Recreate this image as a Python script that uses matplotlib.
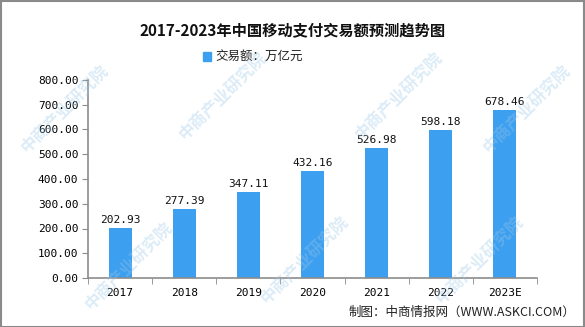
import matplotlib
matplotlib.use("Agg")
import matplotlib.pyplot as plt
from matplotlib.patches import Rectangle

plt.rcParams['font.family'] = ['Noto Sans CJK SC', 'DejaVu Sans']

years = ['2017', '2018', '2019', '2020', '2021', '2022', '2023E']
volume = [202.93, 277.39, 347.11, 432.16, 526.98, 598.18, 678.46]
yticks = [0, 100, 200, 300, 400, 500, 600, 700, 800]

bar_color = '#3d9ff0'
axis_color = '#8c8c8c'

fig = plt.figure(figsize=(5.85, 3.27), dpi=100)
fig.patch.set_facecolor('white')

# light diagonal watermark
for (wx, wy) in [(0.03, 0.52), (0.14, 0.04), (0.30, 0.56), (0.44, 0.06),
                 (0.60, 0.56), (0.74, 0.06), (0.82, 0.52)]:
    fig.text(wx, wy, '中商产业研究院', rotation=45, fontsize=12, fontweight='bold',
             color='#9cc8e8', alpha=0.35, ha='left', va='bottom', zorder=0)

ax = fig.add_axes([88/585, 1-278/327, (537-88)/585, (278-80)/327])
ax.set_facecolor('none')
x = list(range(len(years)))
ax.bar(x, volume, width=0.36, color=bar_color, zorder=2)
for xi, v in zip(x, volume):
    ax.text(xi, v + 12, f'{v:.2f}', ha='center', va='bottom', fontsize=8,
            family='DejaVu Sans Mono', color='#111111')

ax.set_xlim(-0.5, len(years) - 0.5)
ax.set_ylim(0, 800)
ax.set_yticks(yticks)
ax.set_yticklabels([f'{t:.2f}' for t in yticks], family='DejaVu Sans Mono', fontsize=8)
ax.set_xticks(x)
ax.set_xticklabels(years, family='DejaVu Sans Mono', fontsize=8)
ax.set_xticks([i - 0.5 for i in range(len(years) + 1)], minor=True)
ax.tick_params(axis='x', which='major', length=0, pad=7)
ax.tick_params(axis='x', which='minor', length=4, color=axis_color, direction='out')
ax.tick_params(axis='y', length=4, color=axis_color, direction='out', pad=3)
for s in ['top', 'right']:
    ax.spines[s].set_visible(False)
for s in ['left', 'bottom']:
    ax.spines[s].set_color(axis_color)
    ax.spines[s].set_linewidth(1.2)

fig.text(0.5, 1-30/327, '2017-2023年中国移动支付交易额预测趋势图', ha='center', va='center',
         fontsize=11, fontweight='bold', color='#111111')
fig.patches.append(Rectangle((203/585, 1-61/327), 8/585, 9/327, transform=fig.transFigure,
                             color=bar_color, figure=fig))
fig.text(215/585, 1-56/327, '交易额：万亿元', ha='left', va='center', fontsize=9, color='#222222')
fig.text(575/585, 1-312/327, '制图：中商情报网（WWW.ASKCI.COM）', ha='right', va='center',
         fontsize=9, color='#222222')

# outer frame
fig.patches.append(Rectangle((0.5/585, 0.5/327), 583.5/585, 325.5/327, transform=fig.transFigure,
                             fill=False, edgecolor='#8a8a8a', linewidth=1.5, figure=fig))

fig.savefig('out.png', dpi=100)
